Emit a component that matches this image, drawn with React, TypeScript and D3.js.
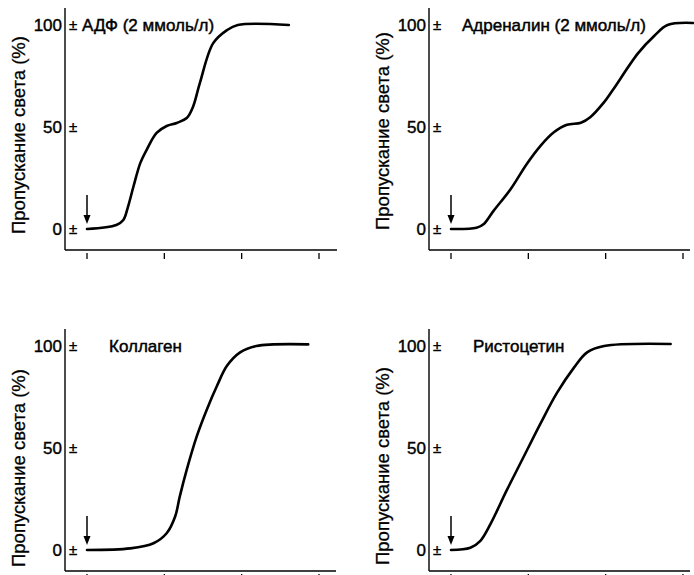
import React from 'react';
import * as d3 from 'd3';

// light transmission (%) vs time (arbitrary units, ticks at 0..3)
const adpT = [0, 0.38, 0.47, 0.53, 0.6, 0.69, 0.77, 0.9, 1.03, 1.16, 1.29, 1.37, 1.46, 1.63, 1.81, 1.95, 2.61];
const adpV = [0, 2, 4.4, 10.9, 20.7, 32.4, 38.7, 47.1, 50.5, 52, 54.4, 59.8, 71.6, 91, 97.5, 100, 100];

const adrT = [0, 0.33, 0.42, 0.55, 0.77, 0.98, 1.16, 1.33, 1.5, 1.68, 1.8, 1.98, 2.09, 2.42, 2.63, 2.8, 3.13];
const adrV = [0, 0.6, 2.3, 8.9, 19.5, 31.9, 40.9, 47.4, 51.1, 52.1, 54.8, 62.2, 68, 86.2, 94.7, 100, 101];

const colT = [0, 0.56, 0.86, 1.03, 1.14, 1.2, 1.29, 1.42, 1.55, 1.68, 1.81, 1.98, 2.19, 2.86];
const colV = [0, 0.8, 3.3, 8.2, 16.4, 26.3, 39.4, 55.8, 68.9, 80.4, 90.3, 96.9, 100, 100.8];

const risT = [0, 0.25, 0.38, 0.51, 0.72, 0.94, 1.16, 1.37, 1.59, 1.76, 1.98, 2.84];
const risV = [0, 1.1, 4.5, 12.7, 29.2, 45.7, 62.2, 77, 89.4, 96.9, 100, 101];

const titles = ['АДФ (2 ммоль/л)', 'Адреналин (2 ммоль/л)', 'Коллаген', 'Ристоцетин'];
const yTicks = [0, 50, 100];
const xTicks = [0, 1, 2, 3];
const yTitle = 'Пропускание света (%)';

const series = [
  { t: adpT, v: adpV },
  { t: adrT, v: adrV },
  { t: colT, v: colV },
  { t: risT, v: risV },
];

// panel placement
const layout = [
  { dx: 0, dy: 0, titleX: 82, yTitleC: 135, xEnd: 337 },
  { dx: 364, dy: 0, titleX: 98, yTitleC: 131, xEnd: 326 },
  { dx: 0, dy: 321, titleX: 109, yTitleC: 147, xEnd: 336 },
  { dx: 364, dy: 321, titleX: 109, yTitleC: 145, xEnd: 326 },
];

const font = '"Liberation Sans", Arial, sans-serif';

function Panel({ i }: { i: number }) {
  const L = layout[i];
  const s = series[i];
  const x = d3.scaleLinear().domain([0, 3]).range([87, 319]);
  const y = d3.scaleLinear().domain([0, 100]).range([229, 25]);
  const axisX = 65;
  const axisY = 250;

  const line = d3
    .line<number>()
    .x((_, k) => x(s.t[k]))
    .y((d) => y(d))
    .curve(d3.curveCatmullRom.alpha(0.5));

  const ax = x(0);
  const ay = y(0);

  return (
    <g transform={`translate(${L.dx},${L.dy})`}>
      {/* y axis */}
      <line x1={axisX} x2={axisX} y1={8} y2={axisY} stroke="#000" strokeWidth={1.4} />
      {/* x axis */}
      <line x1={axisX} x2={L.xEnd} y1={axisY} y2={axisY} stroke="#000" strokeWidth={1.6} />
      {xTicks.map((t) => (
        <line key={t} x1={x(t)} x2={x(t)} y1={axisY + 3} y2={axisY + 9} stroke="#000" strokeWidth={1.3} />
      ))}
      {yTicks.map((t) => (
        <g key={t}>
          <text x={62} y={y(t)} dy="0.36em" textAnchor="end" fontSize={17} fontFamily={font} fill="#000" stroke="#000" strokeWidth={0.4}>
            {t}
          </text>
          <text x={73} y={y(t)} dy="0.36em" textAnchor="middle" fontSize={15} fontFamily={font} fill="#000" stroke="#000" strokeWidth={0.4}>
            ±
          </text>
        </g>
      ))}
      <text
        transform={`translate(25,${L.yTitleC}) rotate(-90)`}
        textAnchor="middle"
        fontSize={18.5}
        fontFamily={font}
        fill="#000"
        stroke="#000"
        strokeWidth={0.3}
      >
        {yTitle}
      </text>
      <text x={L.titleX} y={y(100)} dy="0.36em" fontSize={17} fontFamily={font} fill="#000" stroke="#000" strokeWidth={0.45}>
        {titles[i]}
      </text>
      <path d={line(s.v) || ''} fill="none" stroke="#000" strokeWidth={2.6} strokeLinecap="round" />
      {/* addition arrow */}
      <line x1={ax} x2={ax} y1={ay - 34} y2={ay - 12} stroke="#000" strokeWidth={1.5} />
      <path d={`M${ax - 3.5},${ay - 14} L${ax + 3.5},${ay - 14} L${ax},${ay - 5} Z`} fill="#000" />
    </g>
  );
}

export default function App() {
  return (
    <svg
      width={694}
      height={575}
      style={{ position: 'absolute', left: 0, top: 0, background: '#fff' }}
    >
      <rect width={694} height={575} fill="#fff" />
      {[0, 1, 2, 3].map((i) => (
        <Panel key={i} i={i} />
      ))}
    </svg>
  );
}
